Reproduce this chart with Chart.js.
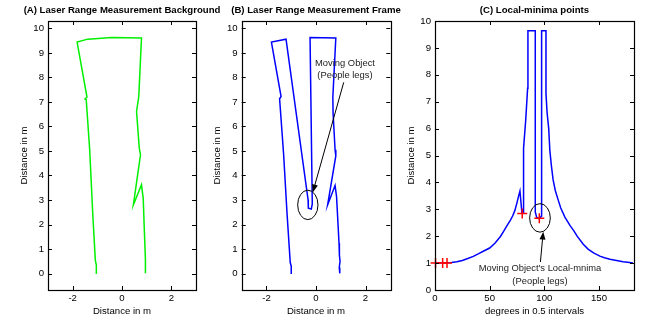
<!DOCTYPE html>
<html><head><meta charset="utf-8">
<script src="https://cdn.jsdelivr.net/npm/chart.js@4.4.1/dist/chart.umd.min.js"></script>
<style>
html,body{margin:0;padding:0;background:#fff;}
#wrap{position:relative;width:648px;height:322px;overflow:hidden;background:#fff;}
canvas{position:absolute;top:0;}
</style></head><body>
<div id="wrap">
<canvas id="cA" width="244" height="322" style="left:0px"></canvas>
<canvas id="cB" width="224" height="322" style="left:196px"></canvas>
<canvas id="cC" width="248" height="322" style="left:400px"></canvas>
</div>
<script>
// ---- Data ----
// (A) background scan, metres
const bgX = [-1.02,-1.04,-1.08,-1.18,-1.31,-1.45,-1.50,-1.42,-1.82,-1.39,-0.41,0.79,0.68,0.59,0.70,0.75,0.46,0.79,0.86,0.90,0.95,0.95];
const bgY = [0.01,0.35,0.53,2.33,5.05,7.09,7.12,7.20,9.44,9.56,9.63,9.61,7.22,6.61,5.12,4.84,2.80,3.62,3.07,1.92,0.56,0.01];
// (B) measurement frame, metres
const frX = [-0.97,-1.00,-1.04,-1.17,-1.31,-1.47,-1.41,-1.80,-1.21,-0.32,-0.31,-0.19,-0.15,-0.24,0.80,0.68,0.69,0.77,0.80,0.47,0.77,0.83,0.93,0.96,0.93,0.97,0.94,0.96];
const frY = [0.01,0.30,0.45,2.46,4.91,7.13,7.22,9.44,9.56,3.01,2.67,2.63,2.84,9.63,9.61,7.20,6.54,5.05,4.80,2.80,3.59,3.14,1.24,1.00,0.75,0.50,0.25,0.01];
// (C) range profile vs. angle index
const prX = [0,10,15,20,25,30,35,40,45,50,55,60,63,66,69,71,73,75,76.5,77.7,79.5,80.7,80.7,81.3,83,84.7,85,91.7,91.7,93,95.5,97.3,97.5,101.5,101.5,102.5,104,105,106.5,108,110,112.7,115,118.8,123.4,127,130,135.6,140,145,150.8,155,160,166,172,178,181];
const prY = [1.0,1.01,1.02,1.05,1.1,1.17,1.25,1.35,1.46,1.56,1.75,2.0,2.2,2.4,2.6,2.75,2.95,3.25,3.5,3.68,2.85,2.85,4.9,5.27,6.34,7.5,9.64,9.64,2.9,2.7,2.65,2.75,9.64,9.64,7.3,6.6,6.0,5.2,4.6,4.1,3.7,3.34,3.05,2.71,2.4,2.2,2.0,1.7,1.52,1.38,1.26,1.2,1.14,1.1,1.05,1.02,1.0];
// local minima markers
const minX = [0.5,7,11,79.8,95.4];
const minY = [1.0,1.0,1.0,2.84,2.67];
// tick labels
const xTicksAB = [-2,0,2];
const yTicksAB = [0,1,2,3,4,5,6,7,8,9,10];
const xTicksC = [0,50,100,150];
const yTicksC = [0,1,2,3,4,5,6,7,8,9,10];

const FONT = '"Liberation Sans", Arial, Helvetica, sans-serif';
Chart.defaults.font.family = FONT;
Chart.defaults.color = '#000';

const pts = (xs, ys) => xs.map((x, i) => ({x: x, y: ys[i]}));

const framePlugin = {
  id: 'frame',
  afterDraw(chart, args, opts) {
    const ctx = chart.ctx, a = chart.chartArea;
    const xs = chart.scales.x, ys = chart.scales.y;
    ctx.save();
    ctx.strokeStyle = '#000';
    ctx.lineWidth = 1;
    ctx.beginPath();
    const L = 4;
    xs.ticks.forEach(t => {
      const p = Math.round(xs.getPixelForValue(t.value)) + 0.5;
      ctx.moveTo(p, a.bottom); ctx.lineTo(p, a.bottom - L);
      ctx.moveTo(p, a.top); ctx.lineTo(p, a.top + L);
    });
    ys.ticks.forEach(t => {
      const p = Math.round(ys.getPixelForValue(t.value)) + 0.5;
      ctx.moveTo(a.left, p); ctx.lineTo(a.left + L, p);
      ctx.moveTo(a.right, p); ctx.lineTo(a.right - L, p);
    });
    ctx.stroke();
    ctx.lineWidth = 1.2;
    ctx.strokeRect(Math.round(a.left) + 0.5, Math.round(a.top) + 0.5, Math.round(a.right - a.left), Math.round(a.bottom - a.top));
    // title
    ctx.fillStyle = '#000';
    ctx.font = 'bold 9.6px ' + FONT;
    ctx.textAlign = 'center';
    ctx.textBaseline = 'middle';
    ctx.fillText(opts.text, (a.left + a.right) / 2, 10);
    // annotations
    const an = opts.ann;
    if (an) {
      ctx.strokeStyle = '#000';
      ctx.lineWidth = 1;
      const e = an.ellipse;
      const cx = xs.getPixelForValue(e.x), cy = ys.getPixelForValue(e.y);
      const rx = Math.abs(xs.getPixelForValue(e.x + e.rx) - cx);
      const ry = Math.abs(ys.getPixelForValue(e.y + e.ry) - cy);
      ctx.beginPath(); ctx.ellipse(cx, cy, rx, ry, 0, 0, Math.PI * 2); ctx.stroke();
      const w = an.arrow;
      const x1 = xs.getPixelForValue(w.x1), y1 = ys.getPixelForValue(w.y1);
      const x2 = xs.getPixelForValue(w.x2), y2 = ys.getPixelForValue(w.y2);
      const ang = Math.atan2(y2 - y1, x2 - x1);
      const hl = 8, hw = 3;
      ctx.beginPath(); ctx.moveTo(x1, y1);
      ctx.lineTo(x2 - Math.cos(ang) * hl * 0.8, y2 - Math.sin(ang) * hl * 0.8); ctx.stroke();
      ctx.fillStyle = '#000';
      ctx.beginPath();
      ctx.moveTo(x2, y2);
      ctx.lineTo(x2 - Math.cos(ang) * hl - Math.sin(ang) * hw, y2 - Math.sin(ang) * hl + Math.cos(ang) * hw);
      ctx.lineTo(x2 - Math.cos(ang) * hl + Math.sin(ang) * hw, y2 - Math.sin(ang) * hl - Math.cos(ang) * hw);
      ctx.closePath(); ctx.fill();
      ctx.fillStyle = '#222';
      ctx.font = '9.4px ' + FONT;
      an.texts.forEach(t => {
        ctx.fillText(t.text, xs.getPixelForValue(t.x), ys.getPixelForValue(t.y));
      });
    }
    ctx.restore();
  }
};

function makeChart(id, c) {
  const tickFont = {family: FONT, size: 9.6};
  return new Chart(document.getElementById(id), {
    type: 'scatter',
    data: {datasets: c.datasets},
    plugins: [framePlugin],
    options: {
      responsive: false,
      animation: false,
      layout: {padding: {top: 21, right: c.rightPad, bottom: 0, left: 0}},
      plugins: {legend: {display: false}, tooltip: {enabled: false}, title: {display: false},
        frame: {text: c.title, ann: c.ann}},
      scales: {
        x: {
          type: 'linear', min: c.xMin, max: c.xMax,
          afterBuildTicks: s => { s.ticks = c.xTicks.map(v => ({value: v})); },
          afterFit: s => { s.height = 32; },
          grid: {display: false, drawTicks: false},
          border: {display: false},
          ticks: {padding: 3, color: '#000', font: tickFont, maxRotation: 0, autoSkip: false},
          title: {display: true, text: c.xTitle, color: '#000', font: tickFont, padding: {top: 0, bottom: 4.5}}
        },
        y: {
          type: 'linear', min: c.yMin, max: c.yMax,
          afterBuildTicks: s => { s.ticks = c.yTicks.map(v => ({value: v})); },
          afterFit: s => { s.width = c.leftW; },
          grid: {display: false, drawTicks: false},
          border: {display: false},
          ticks: {padding: 4, color: '#000', font: tickFont, autoSkip: false},
          title: {display: true, text: 'Distance in m', color: '#000', font: tickFont, padding: {top: c.yTitlePad, bottom: 0}}
        }
      }
    }
  });
}

makeChart('cA', {
  title: '(A) Laser Range Measurement Background',
  datasets: [{data: pts(bgX, bgY), showLine: true, borderColor: '#00f000', borderWidth: 1.5, pointRadius: 0, tension: 0}],
  xMin: -3, xMax: 3, yMin: -0.67, yMax: 10.3, xTicks: xTicksAB, yTicks: yTicksAB,
  leftW: 48, rightPad: 48, yTitlePad: 18.2, xTitle: 'Distance in m'
});

makeChart('cB', {
  title: '(B) Laser Range Measurement Frame',
  datasets: [{data: pts(frX, frY), showLine: true, borderColor: '#0000ff', borderWidth: 1.5, pointRadius: 0, tension: 0}],
  xMin: -3, xMax: 3, yMin: -0.67, yMax: 10.3, xTicks: xTicksAB, yTicks: yTicksAB,
  leftW: 45.7, rightPad: 29.7, yTitlePad: 15.7, xTitle: 'Distance in m',
  ann: {
    ellipse: {x: -0.33, y: 2.8, rx: 0.41, ry: 0.6},
    arrow: {x1: 1.12, y1: 7.8, x2: -0.13, y2: 3.31},
    texts: [{x: 1.17, y: 8.59, text: 'Moving Object'}, {x: 1.17, y: 8.07, text: '(People legs)'}]
  }
});

makeChart('cC', {
  title: '(C) Local-minima points',
  datasets: [
    {data: pts(minX, minY), showLine: false, pointStyle: 'cross', pointRadius: 5, pointBorderColor: '#ff0000', pointBorderWidth: 1.5, clip: false},
    {data: pts(prX, prY), showLine: true, borderColor: '#0000ff', borderWidth: 1.5, pointRadius: 0, tension: 0}
  ],
  xMin: 0, xMax: 182, yMin: 0, yMax: 10, xTicks: xTicksC, yTicks: yTicksC,
  leftW: 35, rightPad: 14, yTitlePad: 5.2, xTitle: 'degrees in 0.5 intervals',
  ann: {
    ellipse: {x: 96, y: 2.68, rx: 9.45, ry: 0.53},
    arrow: {x1: 96.4, y1: 1.04, x2: 99, y2: 2.17},
    texts: [{x: 96, y: 0.79, text: "Moving Object's Local-mnima"}, {x: 96, y: 0.33, text: '(People legs)'}]
  }
});
</script>
</body></html>
